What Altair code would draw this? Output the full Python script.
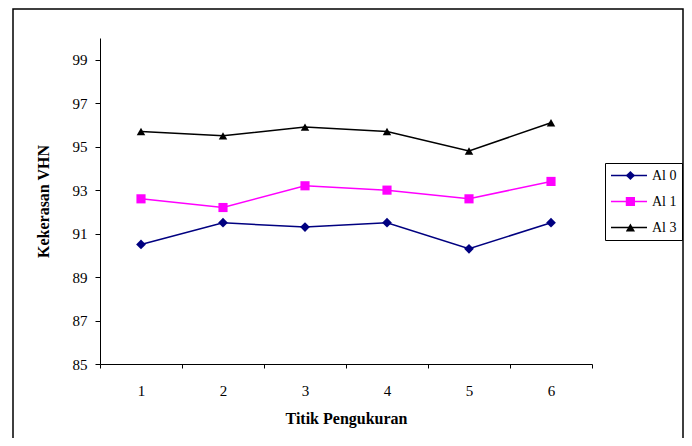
import altair as alt
import pandas as pd

# ---- data ----
titik = ["1", "2", "3", "4", "5", "6"]
seri = ["Al 0", "Al 1", "Al 3"]
al0 = [90.5, 91.5, 91.3, 91.5, 90.3, 91.5]
al1 = [92.6, 92.2, 93.2, 93.0, 92.6, 93.4]
al3 = [95.7, 95.5, 95.9, 95.7, 94.8, 96.1]
y_ticks = [85, 87, 89, 91, 93, 95, 97, 99]

warna = ["#000080", "#FF00FF", "#000000"]
bentuk = ["diamond", "square", "triangle-up"]
ukuran = [95, 72, 120]

rows = []
for s, vals in zip(seri, [al0, al1, al3]):
    for t, v in zip(titik, vals):
        rows.append({"titik": t, "seri": s, "vhn": v})
df = pd.DataFrame(rows)

FONT = "Liberation Serif"

x_enc = alt.X(
    "titik:N",
    sort=titik,
    scale=alt.Scale(type="band", paddingInner=0, paddingOuter=0),
    axis=alt.Axis(
        title="Titik Pengukuran",
        labelAngle=0,
        tickBand="extent",
        tickSize=4,
        labelPadding=15,
        titlePadding=12,
    ),
)
y_enc = alt.Y(
    "vhn:Q",
    scale=alt.Scale(domain=[85, 100], nice=False, zero=False),
    axis=alt.Axis(
        values=y_ticks,
        title="Kekerasan VHN",
        tickSize=5,
        labelPadding=8,
        titlePadding=21,
    ),
)

legend_common = dict(
    title=None,
    orient="none",
    legendX=505,
    legendY=125,
    clipHeight=15,
    rowPadding=11,
    padding=5,
    labelFont=FONT,
    labelFontSize=14,
    labelColor="black",
    labelOffset=4,
)

color_scale = alt.Scale(domain=seri, range=warna)

lines = alt.Chart(df).mark_line(strokeWidth=1.5).encode(
    x=x_enc,
    y=y_enc,
    color=alt.Color(
        "seri:N",
        scale=color_scale,
        legend=alt.Legend(
            symbolType="stroke",
            symbolSize=1296,
            symbolStrokeWidth=1.5,
            strokeColor="black",
            **legend_common,
        ),
    ),
)

pt_legend = alt.Legend(
    symbolSize=85,
    symbolOffset=13.4,
    symbolStrokeWidth=0,
    labelExpr="''",
    **legend_common,
)

points = alt.Chart(df).mark_point(filled=True, opacity=1).encode(
    x=x_enc,
    y=y_enc,
    color=alt.Color("seri:N", scale=color_scale, legend=pt_legend),
    shape=alt.Shape("seri:N", scale=alt.Scale(domain=seri, range=bentuk), legend=pt_legend),
    size=alt.Size("seri:N", scale=alt.Scale(domain=seri, range=ukuran), legend=None),
)

frame = alt.Chart(alt.Data(values=[{}])).mark_rect(
    fill="transparent", stroke="black", strokeWidth=1.5
).encode(
    x=alt.value(-87), x2=alt.value(583), y=alt.value(-29), y2=alt.value(420)
)

chart = (
    alt.layer(frame, lines, points)
    .resolve_scale(color="independent", shape="independent")
    .resolve_legend(color="independent", shape="independent")
    .properties(
        width=492,
        height=326,
        padding={"left": 92, "top": 30, "right": 92, "bottom": 74},
        autosize=alt.AutoSizeParams(type="none"),
        background="white",
    )
    .configure_view(stroke=None)
    .configure_axis(
        grid=False,
        domainColor="black",
        domainWidth=1,
        tickColor="black",
        tickWidth=1,
        labelFont=FONT,
        labelFontSize=15,
        labelColor="black",
        titleFont=FONT,
        titleFontSize=16,
        titleFontWeight="bold",
        titleColor="black",
    )
)

chart.save("out.html", embed_options={"renderer": "svg", "actions": False})
